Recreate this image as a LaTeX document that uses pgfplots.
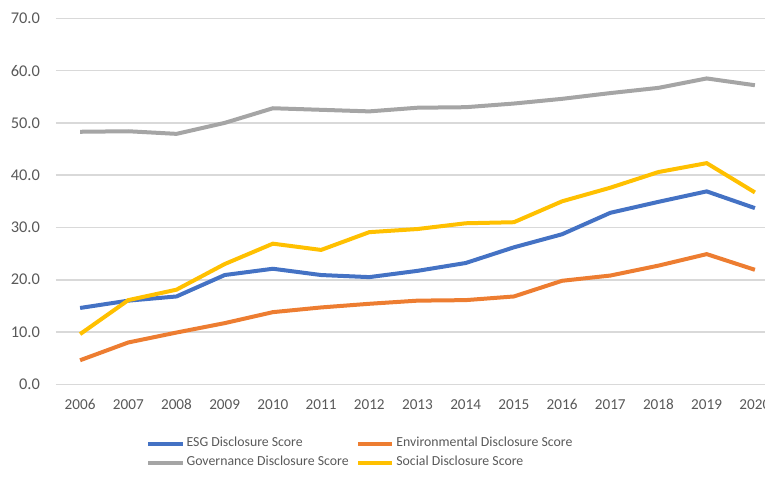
\documentclass[border=0pt]{standalone}
\usepackage{pgfplots}
\pgfplotsset{compat=1.18}
\usepackage{fontspec}
\setmainfont{Carlito}
\definecolor{esg}{HTML}{4472C4}
\definecolor{env}{HTML}{ED7D31}
\definecolor{gov}{HTML}{A5A5A5}
\definecolor{soc}{HTML}{FFC000}
\definecolor{txt}{HTML}{595959}
\definecolor{grd}{HTML}{D9D9D9}
\begin{document}
\begin{tikzpicture}
\begin{axis}[
  at={(28pt,46.35pt)}, anchor=south west,
  scale only axis, width=361.5pt, height=183pt,
  xmin=2005.5, xmax=2020.5, ymin=0, ymax=70,
  xtick={2006,...,2020}, ytick={0,10,...,70},
  axis line style={draw=none},
  major tick length=0pt,
  ymajorgrids, major grid style={grd, line width=0.8pt},
  tick label style={txt},
  /pgf/number format/assume math mode=true,
  xticklabel style={font=\fontsize{7.6}{9}\selectfont, /pgf/number format/1000 sep={}, yshift=-4pt},
  yticklabel style={font=\fontsize{8.2}{9}\selectfont, /pgf/number format/fixed, /pgf/number format/precision=1, /pgf/number format/fixed zerofill, xshift=-4.5pt},
  legend columns=2,
  legend style={draw=none, fill=none, inner sep=0pt, at={(0.1245,-0.188)}, anchor=west,
    font=\fontsize{6.9}{8}\selectfont, text=txt,
    nodes={inner xsep=1pt, inner ysep=1.6pt},
    /tikz/every even column/.append style={column sep=2.8pt}},
  legend cell align=left,
  every axis plot/.append style={line width=2pt},
]
\addplot[esg] coordinates {(2006,14.6)(2007,16.0)(2008,16.8)(2009,20.9)(2010,22.1)(2011,20.9)(2012,20.5)(2013,21.7)(2014,23.2)(2015,26.2)(2016,28.7)(2017,32.8)(2018,34.9)(2019,36.9)(2020,33.7)};
\addplot[env] coordinates {(2006,4.6)(2007,8.0)(2008,9.9)(2009,11.7)(2010,13.8)(2011,14.7)(2012,15.4)(2013,16.0)(2014,16.1)(2015,16.8)(2016,19.8)(2017,20.8)(2018,22.7)(2019,24.9)(2020,21.9)};
\addplot[gov] coordinates {(2006,48.3)(2007,48.4)(2008,47.9)(2009,50.0)(2010,52.8)(2011,52.5)(2012,52.2)(2013,52.9)(2014,53.0)(2015,53.7)(2016,54.6)(2017,55.7)(2018,56.7)(2019,58.5)(2020,57.2)};
\addplot[soc] coordinates {(2006,9.6)(2007,16.1)(2008,18.1)(2009,23.0)(2010,26.9)(2011,25.7)(2012,29.1)(2013,29.7)(2014,30.8)(2015,31.0)(2016,35.0)(2017,37.6)(2018,40.6)(2019,42.3)(2020,36.7)};
\legend{ESG Disclosure Score, Environmental Disclosure Score, Governance Disclosure Score, Social Disclosure Score}
\end{axis}
\pgfresetboundingbox
\path[use as bounding box] (0,0) rectangle (382.5pt,238.5pt);
\end{tikzpicture}
\end{document}
